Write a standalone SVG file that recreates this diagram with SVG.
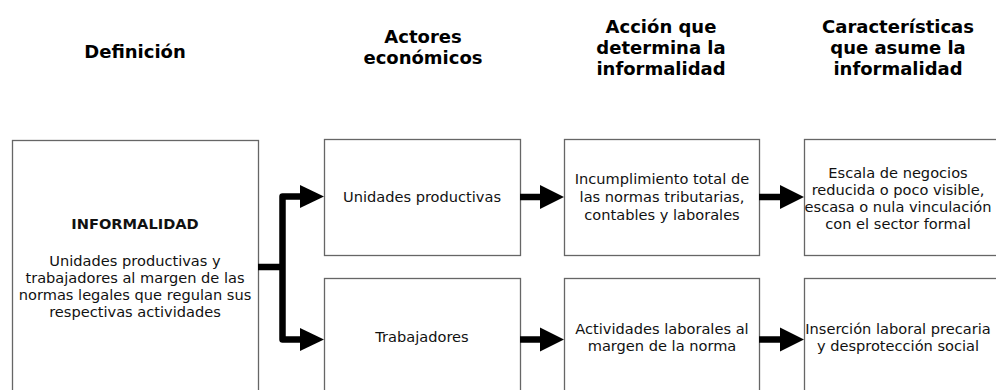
<svg xmlns="http://www.w3.org/2000/svg" width="996" height="390" viewBox="0 0 996 390">
<style>
.box{fill:#fff;stroke:#666;stroke-width:1.3}
.hd{font-family:"DejaVu Sans",Verdana,sans-serif;font-weight:bold;font-size:18px;fill:#000;text-anchor:middle}
.tx{font-family:"DejaVu Sans",Verdana,sans-serif;font-size:14.6px;fill:#111;text-anchor:middle}
.b{font-weight:bold}
.ln{fill:none;stroke:#000;stroke-width:6.5;stroke-linejoin:round}
.ah{fill:#000}
</style>
<rect width="996" height="390" fill="#fff"/>
<g id="headers">
<text class="hd" x="135" y="58">Definición</text>
<text class="hd" x="423" y="43">Actores</text>
<text class="hd" x="423" y="64">económicos</text>
<text class="hd" x="661" y="33">Acción que</text>
<text class="hd" x="661" y="54">determina la</text>
<text class="hd" x="661" y="75">informalidad</text>
<text class="hd" x="898" y="33">Características</text>
<text class="hd" x="898" y="54">que asume la</text>
<text class="hd" x="898" y="75">informalidad</text>
</g>
<g id="definicion">
<rect class="box" x="12.5" y="140.5" width="246" height="270"/>
<text class="tx b" x="135" y="229">INFORMALIDAD</text>
<text class="tx" x="135" y="266">Unidades productivas y</text>
<text class="tx" x="135" y="283">trabajadores al margen de las</text>
<text class="tx" x="135" y="300">normas legales que regulan sus</text>
<text class="tx" x="135" y="317">respectivas actividades</text>
</g>
<g id="unidades">
<rect class="box" x="324.5" y="139.5" width="196" height="116"/>
<text class="tx" x="422" y="202">Unidades productivas</text>
</g>
<g id="trabajadores">
<rect class="box" x="324.5" y="278.5" width="196" height="130"/>
<text class="tx" x="422" y="342">Trabajadores</text>
</g>
<g id="incumplimiento">
<rect class="box" x="564.5" y="139.5" width="195" height="116"/>
<text class="tx" x="662" y="184">Incumplimiento total de</text>
<text class="tx" x="662" y="202">las normas tributarias,</text>
<text class="tx" x="662" y="220">contables y laborales</text>
</g>
<g id="actividades">
<rect class="box" x="564.5" y="278.5" width="195" height="130"/>
<text class="tx" x="662" y="334">Actividades laborales al</text>
<text class="tx" x="662" y="351">margen de la norma</text>
</g>
<g id="escala">
<rect class="box" x="804.5" y="139.5" width="200" height="116"/>
<text class="tx" x="898" y="178">Escala de negocios</text>
<text class="tx" x="898" y="195">reducida o poco visible,</text>
<text class="tx" x="898" y="212">escasa o nula vinculación</text>
<text class="tx" x="898" y="229">con el sector formal</text>
</g>
<g id="insercion">
<rect class="box" x="804.5" y="278.5" width="200" height="130"/>
<text class="tx" x="898" y="334">Inserción laboral precaria</text>
<text class="tx" x="898" y="351">y desprotección social</text>
</g>
<g id="connectors">
<path class="ln" d="M258 267 H282.5 M301 196.5 H282.5 V339.5 H301"/>
<polygon class="ah" points="300,185 324,196.5 300,208"/>
<polygon class="ah" points="300,328 324,339.5 300,351"/>
<path class="ln" d="M520 197 H541 M520 339.5 H541 M759 197 H781 M759 339.5 H781"/>
<polygon class="ah" points="540,185 564,197 540,209"/>
<polygon class="ah" points="540,327.5 564,339.5 540,351.5"/>
<polygon class="ah" points="780,185 804,197 780,209"/>
<polygon class="ah" points="780,327.5 804,339.5 780,351.5"/>
</g>
</svg>
